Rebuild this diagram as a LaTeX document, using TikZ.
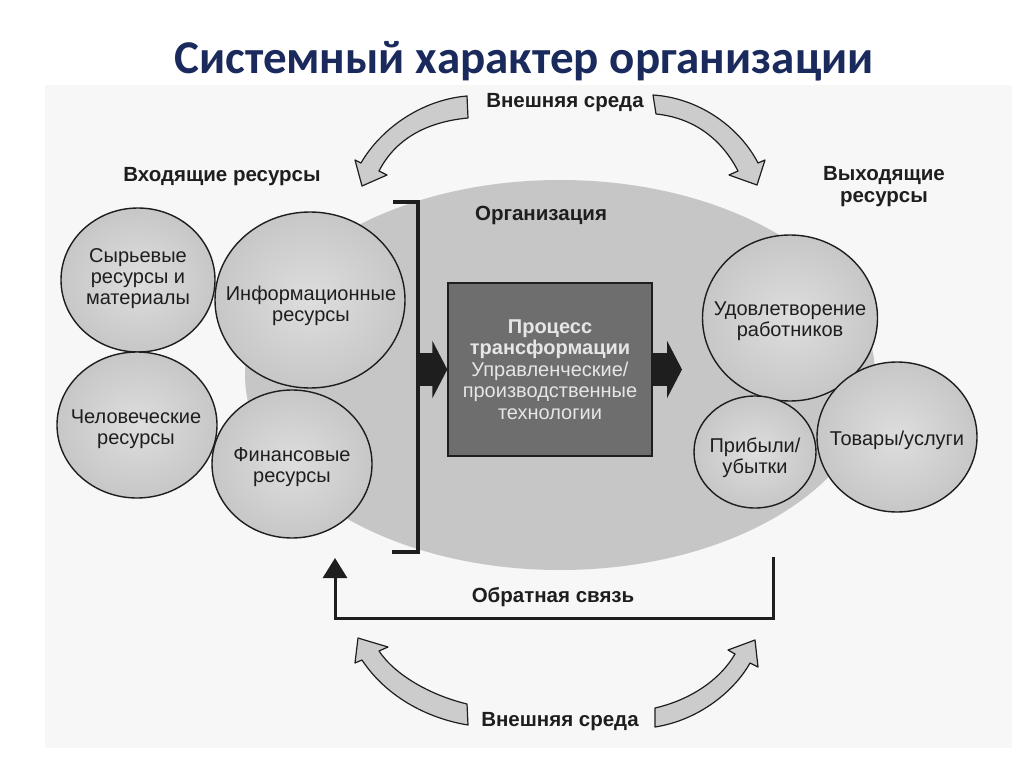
\documentclass[tikz,border=0pt]{standalone}
\usepackage{fontspec}
\setmainfont{Liberation Sans}
\newfontfamily\titlefont{Carlito}
\usetikzlibrary{shapes.geometric,arrows.meta}
\definecolor{titleblue}{HTML}{1B2A5C}
\definecolor{pagegray}{HTML}{F7F7F7}
\definecolor{orggray}{HTML}{C6C6C6}
\definecolor{boxgray}{HTML}{6E6E6E}
\definecolor{boxtext}{HTML}{E6E6E6}
\definecolor{inkgray}{HTML}{1E1E1E}
\begin{document}
\begin{tikzpicture}[x=1pt,y=-1pt,
  res/.style={ellipse, draw=inkgray, line width=1.4pt, inner color=gray!26, outer color=gray!44, inner sep=0pt},
  restext/.style={align=center, inner sep=0pt, text=inkgray, font=\fontsize{20}{21}\selectfont},
  lbl/.style={font=\bfseries\fontsize{20.5}{22}\selectfont, text=inkgray, align=center, inner sep=1pt},
  carrow/.style={fill=gray!40, draw=inkgray, line width=1.2pt, line join=round},
  fat/.style={line width=33pt, draw=inkgray, -{Triangle[length=15pt,width=57pt]}},
  bracket/.style={line width=4pt, draw=inkgray, line join=miter},
]
\useasboundingbox (0,0) rectangle (1024,767);
\fill[white] (0,0) rectangle (1024,767);
\fill[pagegray] (45,85) rectangle (1012,748);

% title
\node[anchor=base, text=titleblue, inner sep=0pt] (title) at (524,74)
  {\titlefont\bfseries\fontsize{47}{52}\selectfont Системный характер организации};

% organisation ellipse
\node[ellipse, fill=orggray, minimum width=630pt, minimum height=390pt, inner sep=0pt] (org) at (560,375) {};

% labels
\node[lbl] (envT) at (565,103) {Внешняя среда};
\node[lbl] (inres) at (222,177) {Входящие ресурсы};
\node[lbl] (outres) at (884,187) {Выходящие\\ресурсы};
\node[lbl] (orglbl) at (541,215) {Организация};
\node[lbl] (fb) at (553,597) {Обратная связь};
\node[lbl] (envB) at (560,722) {Внешняя среда};

% curved block arrows
\draw[carrow] (467,96) .. controls (420,100) and (380,130) .. (361,163) -- (355,160) -- (362,186) -- (387,175) -- (379,171) .. controls (395,140) and (425,122) .. (468,118) -- cycle;
\draw[carrow] (653,95) .. controls (700,98) and (740,128) .. (758,163) -- (765,160) -- (757,185) -- (729,175) -- (738,171) .. controls (722,140) and (695,118) .. (656,114) -- cycle;
\draw[carrow] (467,704) .. controls (430,695) and (395,675) .. (379,651) -- (388,647) -- (358,638) -- (355,663) -- (362,660) .. controls (385,695) and (425,718) .. (468,725) -- cycle;
\draw[carrow] (655,708) .. controls (690,700) and (720,680) .. (735,654) -- (728,650) -- (755,640) -- (758,667) -- (750,663) .. controls (735,690) and (700,720) .. (655,727) -- cycle;

% process box
\node[draw=inkgray, line width=1.4pt, fill=boxgray, minimum width=204pt, minimum height=173pt,
      align=center, text=boxtext, font=\fontsize{20}{21.5}\selectfont] (proc) at (550,369.5)
  {\textbf{Процесс}\\\textbf{трансформации}\\Управленческие/\\производственные\\технологии};

% bracket and coordinates
\coordinate (brT) at (393,202);
\coordinate (brTc) at (418,202);
\coordinate (brBc) at (418,552);
\coordinate (brB) at (392,552);
\coordinate (brM) at (418,369.5);
\coordinate (outTip) at (682,369.5);
\draw[bracket] (brT) -- (brTc) -- (brBc) -- (brB);
\draw[fat] (brM) -- (proc.west);
\draw[fat] (proc.east) -- (outTip);

% input circles
\node[res, minimum width=154pt, minimum height=144pt] (c1) at (138,280) {};
\node[restext] (c1t) at (138,279) {Сырьевые\\ресурсы и\\материалы};
\node[res, minimum width=190pt, minimum height=176pt] (c2) at (310,300) {};
\node[restext] (c2t) at (311,306) {Информационные\\ресурсы};
\node[res, minimum width=160pt, minimum height=146pt] (c3) at (137,425) {};
\node[restext] (c3t) at (136,429) {Человеческие\\ресурсы};
\node[res, minimum width=160pt, minimum height=148pt] (c4) at (292,464) {};
\node[restext] (c4t) at (292,467) {Финансовые\\ресурсы};

% output circles
\node[res, minimum width=175pt, minimum height=166pt] (c5) at (790,318) {};
\node[restext] (c5t) at (790,321) {Удовлетворение\\работников};
\node[res, minimum width=122pt, minimum height=112pt] (c6) at (755,452) {};
\node[restext] (c6t) at (755,458) {Прибыли/\\убытки};
\node[res, minimum width=160pt, minimum height=150pt] (c7) at (897,437) {};
\node[restext] (c7t) at (897,440) {Товары/услуги};

% feedback loop
\coordinate (fbR) at (773,557);
\coordinate (fbRB) at (773,618);
\coordinate (fbLB) at (335,618);
\coordinate (fbTip) at (335,558);
\draw[line width=3pt, draw=inkgray, line join=miter, -{Triangle[length=20pt,width=24pt]}]
  (fbR) -- (fbRB) -- (fbLB) -- (fbTip);
\end{tikzpicture}
\end{document}
